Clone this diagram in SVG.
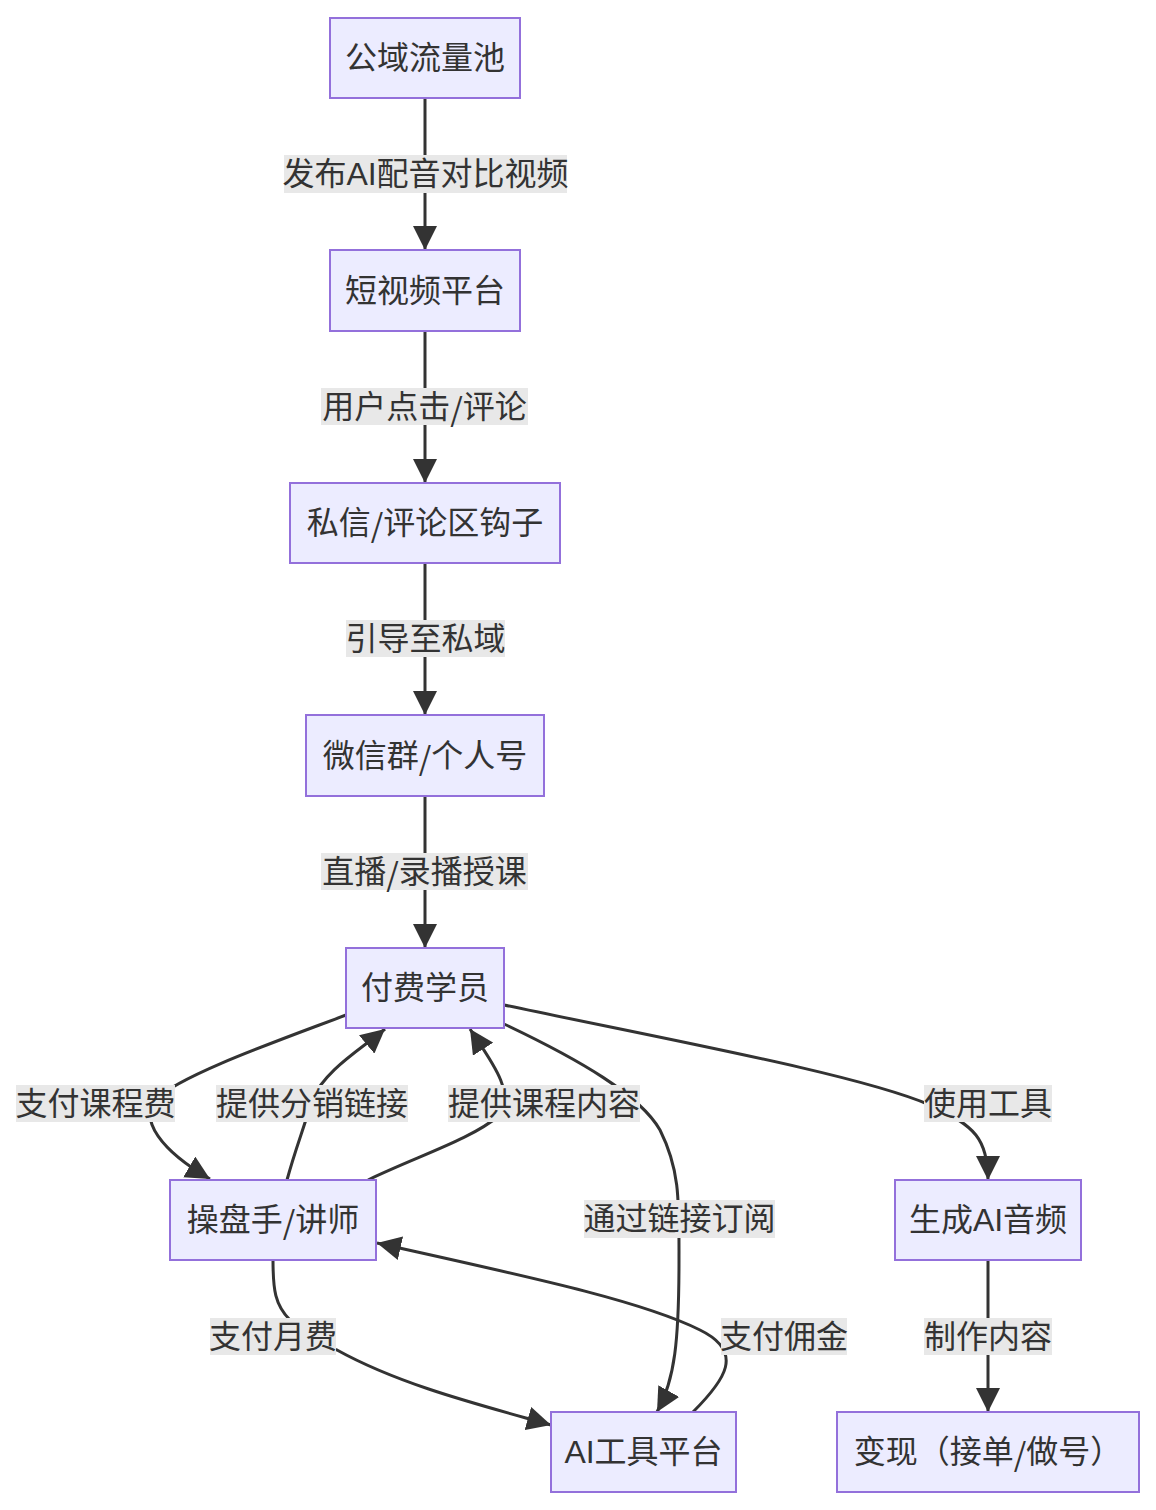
<svg xmlns="http://www.w3.org/2000/svg" width="1156" height="1510" viewBox="0 0 1156 1510">
<style>
.node text,.lbl text{font-family:"Liberation Sans","Noto Sans CJK SC",sans-serif;font-size:32px;fill:#333;text-anchor:middle;dominant-baseline:central}
.node rect{fill:#ECECFF;stroke:#9370DB;stroke-width:2}
.s{font-family:"Noto Sans CJK SC",sans-serif}
.edge{fill:none;stroke:#333;stroke-width:3}
.lbl rect{fill:#e8e8e8}
</style>
<defs>
<marker id="arr" markerUnits="userSpaceOnUse" markerWidth="24" markerHeight="24" viewBox="0 0 10 10" refX="10" refY="5" orient="auto">
<path d="M0,0 L10,5 L0,10 z" fill="#333"/>
</marker>
</defs>
<g id="connectors">
<path class="edge" d="M425,98 L425,250" marker-end="url(#arr)"/>
<path class="edge" d="M425,331 L425,483" marker-end="url(#arr)"/>
<path class="edge" d="M425,563 L425,715" marker-end="url(#arr)"/>
<path class="edge" d="M425,796 L425,948" marker-end="url(#arr)"/>
<path class="edge" d="M346,1015 C280,1040 180,1075 155,1100 C140,1120 160,1150 210,1179" marker-end="url(#arr)"/>
<path class="edge" d="M287,1180 C295,1150 305,1125 312,1100 C325,1070 360,1050 385,1029" marker-end="url(#arr)"/>
<path class="edge" d="M368,1180 C420,1155 470,1140 500,1115 C515,1090 490,1060 470,1029" marker-end="url(#arr)"/>
<path class="edge" d="M504,1024 C580,1060 640,1095 660,1130 C680,1170 679,1200 679,1260 C679,1340 675,1380 657,1412" marker-end="url(#arr)"/>
<path class="edge" d="M504,1005 C680,1042 860,1075 930,1105 C975,1125 988,1140 988,1180" marker-end="url(#arr)"/>
<path class="edge" d="M273,1260 C273,1290 275,1305 290,1320 C300,1335 320,1343 337,1350 C400,1385 480,1405 551,1425" marker-end="url(#arr)"/>
<path class="edge" d="M693,1412 C725,1380 745,1352 700,1330 C640,1300 520,1275 377,1243" marker-end="url(#arr)"/>
<path class="edge" d="M988,1260 L988,1412" marker-end="url(#arr)"/>
</g>
<g id="edge-labels">
<g class="lbl"><rect x="284" y="155" width="283" height="38"/><text x="425.5" y="174">发布AI配音对比视频</text></g>
<g class="lbl"><rect x="321" y="388" width="207" height="37"/><text x="424.5" y="406.5">用户点击<tspan class="s">/</tspan>评论</text></g>
<g class="lbl"><rect x="346" y="620" width="159" height="37"/><text x="425.5" y="638.5">引导至私域</text></g>
<g class="lbl"><rect x="321" y="853" width="207" height="37"/><text x="424.5" y="871.5">直播<tspan class="s">/</tspan>录播授课</text></g>
<g class="lbl"><rect x="16" y="1085" width="159" height="37"/><text x="95.5" y="1103.5">支付课程费</text></g>
<g class="lbl"><rect x="216" y="1085" width="192" height="37"/><text x="312" y="1103.5">提供分销链接</text></g>
<g class="lbl"><rect x="448" y="1085" width="192" height="37"/><text x="544" y="1103.5">提供课程内容</text></g>
<g class="lbl"><rect x="924" y="1085" width="128" height="37"/><text x="988" y="1103.5">使用工具</text></g>
<g class="lbl"><rect x="584" y="1200" width="191" height="38"/><text x="679.5" y="1219">通过链接订阅</text></g>
<g class="lbl"><rect x="210" y="1318" width="126" height="37"/><text x="273" y="1336.5">支付月费</text></g>
<g class="lbl"><rect x="721" y="1318" width="126" height="37"/><text x="784" y="1336.5">支付佣金</text></g>
<g class="lbl"><rect x="924" y="1318" width="128" height="37"/><text x="988" y="1336.5">制作内容</text></g>
</g>
<g id="n1" class="node"><rect x="330" y="18" width="190" height="80"/><text x="425" y="58">公域流量池</text></g>
<g id="n2" class="node"><rect x="330" y="250" width="190" height="81"/><text x="425" y="290.5">短视频平台</text></g>
<g id="n3" class="node"><rect x="290" y="483" width="270" height="80"/><text x="425" y="523">私信<tspan class="s">/</tspan>评论区钩子</text></g>
<g id="n4" class="node"><rect x="306" y="715" width="238" height="81"/><text x="425" y="755.5">微信群<tspan class="s">/</tspan>个人号</text></g>
<g id="n5" class="node"><rect x="346" y="948" width="158" height="80"/><text x="425" y="988">付费学员</text></g>
<g id="n6" class="node"><rect x="170" y="1180" width="206" height="80"/><text x="273" y="1220">操盘手<tspan class="s">/</tspan>讲师</text></g>
<g id="n7" class="node"><rect x="895" y="1180" width="186" height="80"/><text x="988" y="1220">生成AI音频</text></g>
<g id="n8" class="node"><rect x="551" y="1412" width="185" height="80"/><text x="643.5" y="1452">AI工具平台</text></g>
<g id="n9" class="node"><rect x="837" y="1412" width="302" height="80"/><text x="988" y="1452">变现（接单<tspan class="s">/</tspan>做号）</text></g>
</svg>
